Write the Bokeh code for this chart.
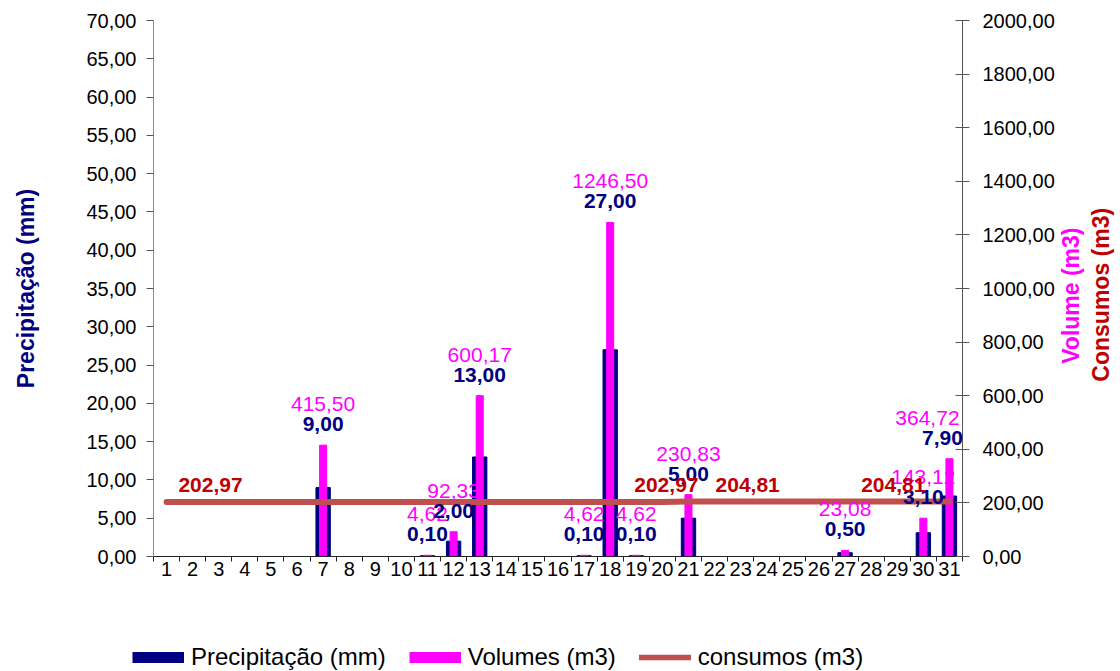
import math
from bokeh.plotting import figure
from bokeh.layouts import column, row
from bokeh.models import (Range1d, LinearAxis, FixedTicker, ColumnDataSource, LabelSet,
                          Legend, LegendItem)
from bokeh.core.properties import value
from bokeh.embed import file_html
from bokeh.resources import INLINE

# ---------------- data ----------------
days = [1, 2, 3, 4, 5, 6, 7, 8, 9, 10, 11, 12, 13, 14, 15, 16,
        17, 18, 19, 20, 21, 22, 23, 24, 25, 26, 27, 28, 29, 30, 31]
precip = [0, 0, 0, 0, 0, 0, 9.00, 0, 0, 0, 0.10, 2.00, 13.00, 0, 0, 0,
          0.10, 27.00, 0.10, 0, 5.00, 0, 0, 0, 0, 0, 0.50, 0, 0, 3.10, 7.90]
volumes = [0, 0, 0, 0, 0, 0, 415.50, 0, 0, 0, 4.62, 92.33, 600.17, 0, 0, 0,
           4.62, 1246.50, 4.62, 0, 230.83, 0, 0, 0, 0, 0, 23.08, 0, 0, 143.12, 364.72]
consumos = [202.97, 202.97, 202.97, 202.97, 202.97, 202.97, 202.97, 202.97,
            202.97, 202.97, 202.97, 202.97, 202.97, 202.97, 202.97, 202.97,
            202.97, 202.97, 202.97, 202.97, 204.81, 204.81, 204.81, 204.81,
            204.81, 204.81, 204.81, 204.81, 204.81, 204.81, 204.81]
consumo_label_days = [1, 20, 23, 29]

left_ticks = [0, 5, 10, 15, 20, 25, 30, 35, 40, 45, 50, 55, 60, 65, 70]
left_tick_labels = ["0,00", "5,00", "10,00", "15,00", "20,00", "25,00", "30,00", "35,00",
                    "40,00", "45,00", "50,00", "55,00", "60,00", "65,00", "70,00"]
right_ticks = [0, 200, 400, 600, 800, 1000, 1200, 1400, 1600, 1800, 2000]
right_tick_labels = ["0,00", "200,00", "400,00", "600,00", "800,00", "1000,00", "1200,00",
                     "1400,00", "1600,00", "1800,00", "2000,00"]

# ---------------- styles ----------------
FONT = "Liberation Sans"
NAVY = "#000080"
MAGENTA = "#FF00FF"
LINE_RED = "#C0504D"
DARK_RED = "#C00000"


def fmt(v):
    return f"{v:.2f}".replace(".", ",")


p = figure(frame_width=809, frame_height=536,
           min_border_left=153, min_border_right=96, min_border_top=20, min_border_bottom=44,
           x_range=Range1d(0.5, 31.5), y_range=Range1d(0, 70),
           x_axis_location=None, y_axis_location=None,
           output_backend="svg", toolbar_location=None)
p.extra_y_ranges = {"vol": Range1d(0, 2000)}
p.outline_line_color = None
p.grid.visible = False
p.background_fill_color = "white"
p.border_fill_color = "white"

# x axis: labels at day centres, ticks at category boundaries
xaxis = LinearAxis(ticker=FixedTicker(ticks=days,
                                      minor_ticks=[d - 0.5 for d in days] + [days[-1] + 0.5]))
xaxis.major_tick_in = 0
xaxis.major_tick_out = 0
xaxis.minor_tick_in = 0
xaxis.minor_tick_out = 5
xaxis.minor_tick_line_color = "#222222"
xaxis.axis_line_color = "#222222"
xaxis.major_label_standoff = 0
xaxis.major_label_text_font = FONT
xaxis.major_label_text_font_size = "20px"
xaxis.major_label_text_color = "black"
p.add_layout(xaxis, "below")

yaxis = LinearAxis(ticker=FixedTicker(ticks=left_ticks),
                   major_label_overrides=dict(zip(left_ticks, left_tick_labels)))
yaxis.major_tick_in = 0
yaxis.major_tick_out = 7
yaxis.minor_tick_in = 0
yaxis.minor_tick_out = 0
yaxis.axis_line_color = "#8c8c8c"
yaxis.major_tick_line_color = "#555555"
yaxis.major_label_standoff = 10
yaxis.major_label_text_font = FONT
yaxis.major_label_text_font_size = "20px"
yaxis.major_label_text_color = "black"
yaxis.axis_label = "Precipitação (mm)"
yaxis.axis_label_standoff = 44
yaxis.axis_label_text_font = FONT
yaxis.axis_label_text_font_size = "23px"
yaxis.axis_label_text_font_style = "bold"
yaxis.axis_label_text_color = NAVY
p.add_layout(yaxis, "left")

raxis = LinearAxis(y_range_name="vol", ticker=FixedTicker(ticks=right_ticks),
                   major_label_overrides=dict(zip(right_ticks, right_tick_labels)))
raxis.major_tick_in = 7
raxis.major_tick_out = 7
raxis.minor_tick_in = 0
raxis.minor_tick_out = 0
raxis.axis_line_color = "#555555"
raxis.major_tick_line_color = "#555555"
raxis.major_label_standoff = 13
raxis.major_label_text_font = FONT
raxis.major_label_text_font_size = "20px"
raxis.major_label_text_color = "black"
p.add_layout(raxis, "right")

# bars and line
p.vbar(x=days, top=precip, width=0.55, color=NAVY)
p.vbar(x=days, top=volumes, width=0.27, color=MAGENTA, y_range_name="vol")
p.line(days, consumos, y_range_name="vol", line_width=6, line_color=LINE_RED, line_cap="round")

# data labels (the last day's pair nudged left so they stay inside the plot)
lab_days = [d for d, v in zip(days, precip) if v > 0]
lab_p = [fmt(v) for v in precip if v > 0]
lab_vol = [v for v in volumes if v > 0]
lab_v = [fmt(v) for v in lab_vol]
dx_v = [-22 if d == days[-1] else 0 for d in lab_days]
dx_p = [-7 if d == days[-1] else 0 for d in lab_days]
lsrc = ColumnDataSource(dict(x=lab_days, y=lab_vol, tp=lab_p, tv=lab_v, dxv=dx_v, dxp=dx_p))

p.add_layout(LabelSet(x="x", y="y", text="tv", source=lsrc, y_range_name="vol",
                      x_offset="dxv", y_offset=41,
                      text_align="center", text_baseline="middle", text_font=value(FONT),
                      text_font_size=value("21px"), text_color=MAGENTA))
p.add_layout(LabelSet(x="x", y="y", text="tp", source=lsrc, y_range_name="vol",
                      x_offset="dxp", y_offset=21,
                      text_align="center", text_baseline="middle", text_font=value(FONT),
                      text_font_size=value("21px"), text_font_style="bold", text_color=NAVY))

c_vals = [consumos[d - 1] for d in consumo_label_days]
csrc = ColumnDataSource(dict(x=consumo_label_days, y=c_vals, t=[fmt(v) for v in c_vals],
                             dx=[44, 4, 7, -4]))
p.add_layout(LabelSet(x="x", y="y", text="t", source=csrc, y_range_name="vol",
                      x_offset="dx", y_offset=17,
                      text_align="center", text_baseline="middle", text_font=value(FONT),
                      text_font_size=value("21px"), text_font_style="bold", text_color=DARK_RED))

# ---- right-hand axis titles (strip to the right of the chart) ----
tfig = figure(width=62, height=600, min_border=0, x_range=Range1d(0, 62), y_range=Range1d(0, 600),
              x_axis_location=None, y_axis_location=None,
              output_backend="svg", toolbar_location=None)
tfig.outline_line_color = None
tfig.grid.visible = False
tfig.text(x=[12], y=[292], text=["Volume (m3)"], angle=math.pi / 2,
          text_align="center", text_baseline="middle", text_font=value(FONT),
          text_font_size=value("23px"), text_font_style="bold", text_color=MAGENTA)
tfig.text(x=[42], y=[293], text=["Consumos (m3)"], angle=math.pi / 2,
          text_align="center", text_baseline="middle", text_font=value(FONT),
          text_font_size=value("23px"), text_font_style="bold", text_color=DARK_RED)

# ---- legend strip below the chart ----
lfig = figure(width=1120, height=71, min_border=0, x_range=Range1d(0, 1120), y_range=Range1d(0, 71),
              x_axis_location=None, y_axis_location=None,
              output_backend="svg", toolbar_location=None)
lfig.outline_line_color = None
lfig.grid.visible = False
nan = float("nan")
# legend proxies: one undrawable (NaN) point each, used only for their swatch style
r1 = lfig.line(x=[nan], y=[nan], line_width=11, line_color=NAVY, line_cap="butt")
r2 = lfig.line(x=[nan], y=[nan], line_width=11, line_color=MAGENTA, line_cap="butt")
r3 = lfig.line(x=[nan], y=[nan], line_width=5.5, line_color=LINE_RED, line_cap="round")
legend = Legend(items=[LegendItem(label="Precipitação (mm)", renderers=[r1]),
                       LegendItem(label="Volumes (m3)", renderers=[r2]),
                       LegendItem(label="consumos (m3)", renderers=[r3])],
                orientation="horizontal", location=(132, 0), padding=0, margin=0,
                spacing=23, label_standoff=7, glyph_width=52, glyph_height=28, label_height=28,
                label_text_font=FONT, label_text_font_size="24px", label_text_color="black",
                border_line_color=None, background_fill_alpha=0)
lfig.add_layout(legend)

page = column(row(p, tfig), lfig)
open("out.html", "w").write(file_html(page, INLINE))
